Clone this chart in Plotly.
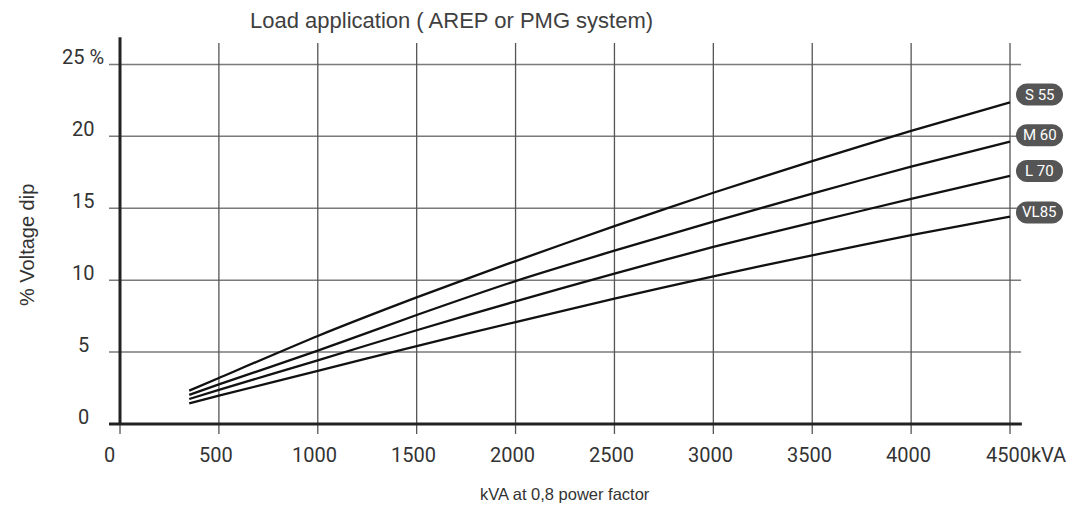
import plotly.graph_objects as go

# ---------------- data ----------------
kva = [350, 500, 1000, 1500, 2000, 2500, 3000, 3500, 4000, 4500]
s55 = [2.32, 3.20, 6.12, 8.80, 11.33, 13.76, 16.08, 18.28, 20.38, 22.37]
m60 = [2.02, 2.75, 5.10, 7.58, 9.94, 12.05, 14.07, 16.02, 17.90, 19.63]
l70 = [1.74, 2.37, 4.43, 6.52, 8.53, 10.46, 12.31, 14.00, 15.65, 17.25]
vl85 = [1.44, 1.97, 3.69, 5.42, 7.09, 8.71, 10.27, 11.73, 13.14, 14.42]

series_names = ["S 55", "M 60", "L 70", "VL85"]
series_vals = [s55, m60, l70, vl85]
label_y = [22.91, 20.08, 17.59, 14.71]   # centre of the end-labels (in %)

x_ticks = [0, 500, 1000, 1500, 2000, 2500, 3000, 3500, 4000, 4500]
x_tick_text = ["0", "500", "1000", "1500", "2000", "2500", "3000", "3500", "4000", "4500kVA"]
y_ticks = [0, 5, 10, 15, 20, 25]
y_tick_text = ["0", "5", "10", "15", "20", "25 %"]

title = "Load application ( AREP or PMG system)"
x_title = "kVA at 0,8 power factor"
y_title = "% Voltage dip"

# ---------------- layout geometry ----------------
OFF = 0                      # body margin removed by post_script
W, H = 1068 - 2 * OFF, 514 - 2 * OFF
ML, MR, MT, MB = 108, 45, 37, 79
PW, PH = W - ML - MR, H - MT - MB
X0, X1 = -60.7, 4565.7
Y0, Y1 = -0.765, 26.91

def px_x(px):
    return (px - OFF - ML) / PW

def px_y(py):
    return (H - MB - (py - OFF)) / PH

def val_to_paper_y(v):
    return (v - Y0) / (Y1 - Y0)

NARROW = "Liberation Sans Narrow, Arial Narrow, Roboto, sans-serif"
REG = "Liberation Sans, Arial, Helvetica, sans-serif"
TXT = "#333333"

fig = go.Figure()

for name, vals in zip(series_names, series_vals):
    fig.add_trace(go.Scatter(
        x=kva, y=vals, mode="lines", name=name,
        line=dict(color="#111111", width=2.3, shape="spline", smoothing=0.6),
        hoverinfo="x+y+name", showlegend=False,
    ))

shapes = []
# horizontal grid lines
for v in y_ticks[1:]:
    shapes.append(dict(type="line", xref="x", yref="y", x0=-55.6, x1=4556, y0=v, y1=v,
                       line=dict(color="#7a7a7a", width=1.5), layer="below"))
# vertical grid lines
for v in x_ticks[1:]:
    shapes.append(dict(type="line", xref="x", yref="y", x0=v, x1=v, y0=-0.7, y1=26.5,
                       line=dict(color="#555555", width=1.3), layer="below"))
# tick below zero
shapes.append(dict(type="line", xref="x", yref="y", x0=0, x1=0, y0=-0.7, y1=0,
                   line=dict(color="#555555", width=1.3)))
# axes
shapes.append(dict(type="line", xref="x", yref="y", x0=-55.6, x1=4560, y0=0, y1=0,
                   line=dict(color="#222222", width=3)))
shapes.append(dict(type="line", xref="x", yref="y", x0=0, x1=0, y0=0, y1=26.9,
                   line=dict(color="#222222", width=3)))

# pill labels
hw, hh = 23.5, 11
k = 0.5523 * hh
cx = hw - hh
pill = (f"M {-cx},{-hh} L {cx},{-hh} C {cx + k},{-hh} {hw},{-k} {hw},0 "
        f"C {hw},{k} {cx + k},{hh} {cx},{hh} L {-cx},{hh} "
        f"C {-cx - k},{hh} {-hw},{k} {-hw},0 C {-hw},{-k} {-cx - k},{-hh} {-cx},{-hh} Z")
pill_x = px_x(1039.5)
annotations = []
for name, ly in zip(series_names, label_y):
    shapes.append(dict(type="path", xref="paper", yref="paper",
                       xsizemode="pixel", ysizemode="pixel",
                       xanchor=pill_x, yanchor=val_to_paper_y(ly),
                       path=pill, fillcolor="#555555", line=dict(width=0)))
    annotations.append(dict(xref="paper", yref="paper", x=pill_x, y=val_to_paper_y(ly),
                            text=name, showarrow=False, xanchor="center", yanchor="middle",
                            font=dict(family=NARROW, size=15, color="white")))

TICKF = dict(family=NARROW, size=20, color=TXT)
# x tick labels
for v, t in zip(x_ticks, x_tick_text):
    if t.endswith("kVA"):
        annotations.append(dict(xref="x", yref="y", x=v, y=0, text=t, showarrow=False,
                                xanchor="left", yanchor="middle", xshift=-26, yshift=-31,
                                font=TICKF))
    else:
        annotations.append(dict(xref="x", yref="y", x=v, y=0, text=t, showarrow=False,
                                xanchor="center", yanchor="middle",
                                xshift=-11 if v == 0 else -3, yshift=-31,
                                font=TICKF))
# y tick labels
for v, t in zip(y_ticks, y_tick_text):
    annotations.append(dict(xref="paper", yref="y", x=px_x(83), y=v, text=t, showarrow=False,
                            xanchor="center", yanchor="middle", yshift=7,
                            font=TICKF))

annotations.append(dict(xref="paper", yref="paper", x=px_x(451), y=px_y(20), text=title,
                        showarrow=False, xanchor="center", yanchor="middle",
                        font=dict(family=REG, size=22, color="#3f3f3f")))
annotations.append(dict(xref="paper", yref="paper", x=px_x(565), y=px_y(494), text=x_title,
                        showarrow=False, xanchor="center", yanchor="middle",
                        font=dict(family=REG, size=16.5, color=TXT)))
annotations.append(dict(xref="paper", yref="paper", x=px_x(27), y=px_y(245), text=y_title,
                        showarrow=False, xanchor="center", yanchor="middle", textangle=-90,
                        font=dict(family=REG, size=20, color=TXT)))

fig.update_layout(
    width=W, height=H,
    margin=dict(l=ML, r=MR, t=MT, b=MB, pad=0),
    paper_bgcolor="white", plot_bgcolor="white",
    xaxis=dict(range=[X0, X1], visible=False, fixedrange=True),
    yaxis=dict(range=[Y0, Y1], visible=False, fixedrange=True),
    shapes=shapes, annotations=annotations,
    showlegend=False,
)

fig.write_html(
    "out.html",
    config={"displayModeBar": False},
    post_script="document.body.style.margin='0';document.body.style.overflow='hidden';",
)
